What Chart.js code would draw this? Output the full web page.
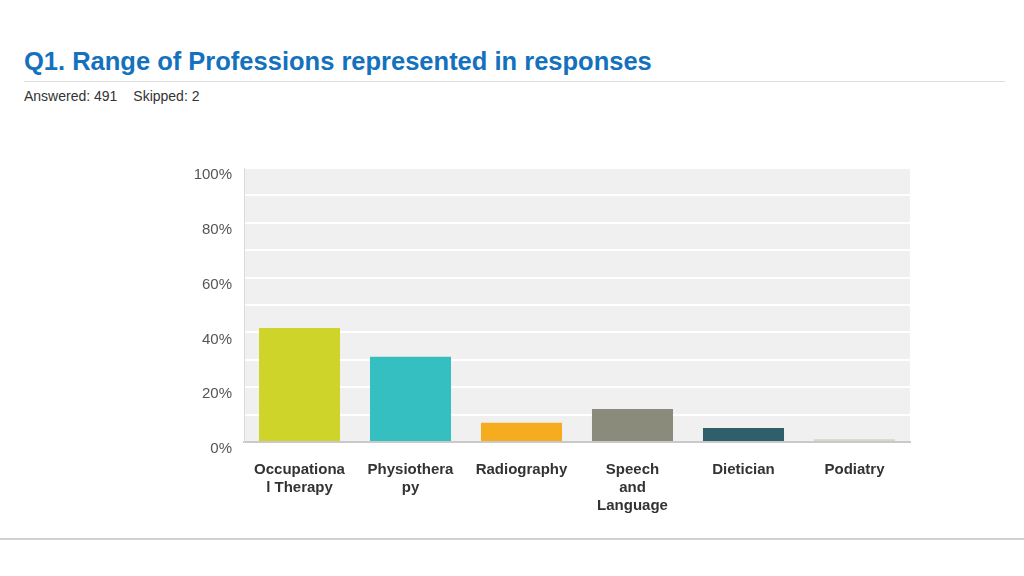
<!DOCTYPE html>
<html>
<head>
<meta charset="utf-8">
<script src="https://cdn.jsdelivr.net/npm/chart.js@4.4.0/dist/chart.umd.min.js"></script>
<style>
  html, body { margin: 0; padding: 0; background: #fff; }
  body { width: 1024px; height: 576px; position: relative; overflow: hidden; font-family: "Liberation Sans", Arial, sans-serif; }
  h1 { position: absolute; left: 24px; top: 47px; margin: 0; font-size: 25.5px; font-weight: bold; color: #1371bd; }
  .rule { position: absolute; left: 24px; right: 19px; top: 81px; border-top: 1px solid #dcdcdc; }
  .meta { position: absolute; left: 24px; top: 88px; font-size: 14px; color: #333; }
  .meta span { margin-right: 12px; }
  .foot { position: absolute; left: 0; right: 0; top: 538px; border-top: 2px solid #d0d0d0; }
  #wrap { position: absolute; left: 0; top: 0; width: 1024px; height: 576px; }
</style>
</head>
<body>
<h1>Q1. Range of Professions represented in responses</h1>
<div class="rule"></div>
<div class="meta"><span>Answered: 491</span> <span>Skipped: 2</span></div>
<div class="foot"></div>
<div id="wrap"><canvas id="chart"></canvas></div>
<script>
// categories and answer shares (percent)
const professions = [
  ['Occupationa', 'l Therapy'],
  ['Physiothera', 'py'],
  'Radiography',
  ['Speech', 'and', 'Language'],
  'Dietician',
  'Podiatry'
];
const shares = [41.6, 31.1, 7.0, 12.0, 5.1, 1.0];
const barColors = ['#cfd42a', '#35bfc0', '#f5ac1f', '#8b8b7b', '#2f5f6b', '#d5d6c7'];
const yTicks = [0, 20, 40, 60, 80, 100];

// paint the grey plot area behind the bars
const plotBg = {
  id: 'plotBg',
  beforeDraw(chart) {
    const { ctx, chartArea: a } = chart;
    ctx.save();
    ctx.fillStyle = '#f0f0f0';
    ctx.fillRect(a.left, a.top, a.right - a.left, a.bottom - a.top);
    ctx.restore();
  }
};

const ctx = document.getElementById('chart').getContext('2d');
new Chart(ctx, {
  type: 'bar',
  data: {
    labels: professions,
    datasets: [{
      data: shares,
      backgroundColor: barColors,
      barPercentage: 0.73,
      categoryPercentage: 1
    }]
  },
  plugins: [plotBg],
  options: {
    responsive: true,
    maintainAspectRatio: false,
    animation: false,
    layout: { padding: { left: 184, right: 114, top: 168, bottom: 54 } },
    plugins: { legend: { display: false }, tooltip: { enabled: false } },
    scales: {
      x: {
        grid: { display: false },
        border: { display: true, color: '#c9c9c9', width: 2 },
        ticks: {
          padding: 11,
          color: '#333',
          font: { family: '"Liberation Sans", Arial, sans-serif', size: 15, weight: 'bold', lineHeight: 1.2 }
        },
        afterFit(s) { s.height = 80; }
      },
      y: {
        min: 0,
        max: 100,
        grid: { color: '#ffffff', lineWidth: 2, drawTicks: false },
        border: { display: true, color: '#dadada', width: 1 },
        ticks: {
          stepSize: 10,
          padding: 12,
          labelOffset: 7,
          color: '#555',
          font: { family: '"Liberation Sans", Arial, sans-serif', size: 15 },
          callback: v => yTicks.includes(v) ? v + '%' : ''
        },
        afterFit(s) { s.width = 60; }
      }
    }
  }
});
</script>
</body>
</html>
